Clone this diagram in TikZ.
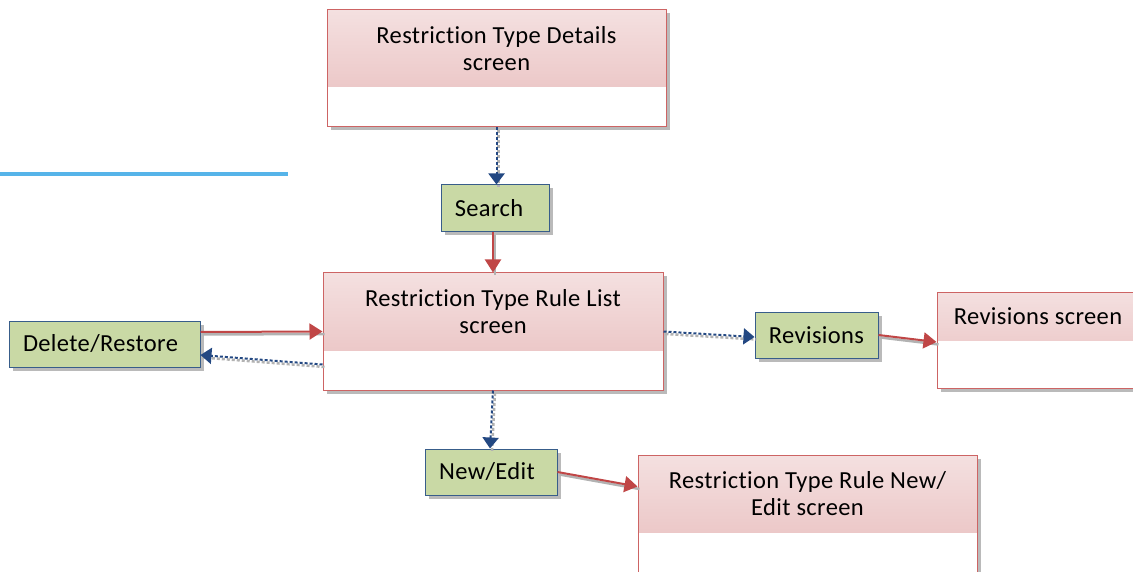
\documentclass[tikz,border=0pt]{standalone}
\usepackage{fontspec}
\setmainfont{Carlito}[Ligatures=NoCommon, LetterSpace=1.5]
\usetikzlibrary{arrows.meta,shadows,calc}
\definecolor{scrred}{RGB}{205,100,100}
\definecolor{hdtop}{RGB}{244,224,224}
\definecolor{hdbot}{RGB}{232,188,188}
\definecolor{actfill}{RGB}{201,217,165}
\definecolor{actline}{RGB}{56,93,138}
\definecolor{arrred}{RGB}{192,70,70}
\definecolor{arrblue}{RGB}{35,72,130}
\definecolor{skyline}{RGB}{86,180,233}
\tikzset{
  txt/.style={font=\fontsize{24.5}{27}\selectfont, align=center, inner sep=0pt},
  screenbox/.style={draw=scrred, line width=1pt, fill=white,
    drop shadow={shadow xshift=3.5pt, shadow yshift=-3.5pt, fill=black!45, opacity=0.6},
    path picture={\shade[top color=hdtop, bottom color=hdbot]
      (path picture bounding box.north west) rectangle ([yshift=-#1]path picture bounding box.north east);}},
  actbox/.style={draw=actline, line width=1pt, fill=actfill,
    drop shadow={shadow xshift=3.5pt, shadow yshift=-3.5pt, fill=black!45, opacity=0.6},
    font=\fontsize{24.5}{27}\selectfont},
  textleft/.style={execute at begin node={\hspace*{-#1}}},
  redarrow/.style={draw=arrred, line width=2pt, -{Triangle[length=13pt,width=16pt]}},
  bluearrow/.style={draw=arrblue, line width=2pt, dash pattern=on 3pt off 2pt, -{Triangle[length=11pt,width=16pt]}},
  lineshadow/.style={draw=black!30, line width=2.5pt, transform canvas={shift={(2pt,-2.5pt)}}},
}
\begin{document}
\begin{tikzpicture}[x=1pt,y=-1pt]
\useasboundingbox (0,0) rectangle (1133,572);
\clip (0,0) rectangle (1133,572);

% decorative line
\draw[skyline, line width=4pt] (0,174) coordinate (lineA) -- (288,174) coordinate (lineB);

% screens
\node[screenbox=77pt, minimum width=339pt, minimum height=117pt, inner sep=0pt] (details) at (496.5,68.5) {};
\node[txt] (detailsT) at (496.5,48.5) {Restriction Type Details\\screen};

\node[screenbox=77pt, minimum width=340pt, minimum height=117pt, inner sep=0pt] (list) at (493,331.5) {};
\node[txt] (listT) at (493,311.5) {Restriction Type Rule List\\screen};

\node[screenbox=48pt, minimum width=200pt, minimum height=96pt, inner sep=0pt] (revscr) at (1037,340) {};
\node[txt] (revscrT) at (1038,316) {Revisions screen};

\node[screenbox=77pt, minimum width=339pt, minimum height=117pt, inner sep=0pt] (nescr) at (807.5,513.5) {};
\node[txt] (nescrT) at (807.5,493.5) {Restriction Type Rule New/\\Edit screen};

% actions
\node[actbox, textleft=12pt, minimum width=108pt, minimum height=47pt, inner sep=0pt] (search) at (495,208.5) {Search};
\node[actbox, textleft=8pt, minimum width=191pt, minimum height=46pt, inner sep=0pt] (del) at (104.5,344) {Delete/Restore};
\node[actbox, minimum width=123pt, minimum height=46pt, inner sep=0pt] (rev) at (816.5,335) {Revisions};
\node[actbox, textleft=8pt, minimum width=132pt, minimum height=46pt, inner sep=0pt] (newedit) at (491,472) {New/Edit};

% connector shadows
\draw[lineshadow, dash pattern=on 3pt off 2pt] (details.south) -- (details.south |- search.north);
\draw[lineshadow] ($(search.south)+(-2,0)$) -- ($(search.south |- list.north)+(-2,0)$);
\draw[lineshadow] ($(del.east)+(0,-12)$) -- (list.west);
\draw[lineshadow, dash pattern=on 3pt off 2pt] ($(list.west)+(0,33)$) -- ($(del.east)+(0,11)$);
\draw[lineshadow, dash pattern=on 3pt off 2pt] (list.east) -- ($(rev.west)+(0,2)$);
\draw[lineshadow] (rev.east) -- ($(revscr.west)+(0,2)$);
\draw[lineshadow, dash pattern=on 3pt off 2pt] (list.south) -- ($(newedit.north)+(-1,0)$);
\draw[lineshadow] (newedit.east) -- ($(nescr.west)+(0,-27)$);

% connectors
\draw[bluearrow] (details.south) -- (details.south |- search.north);
\draw[redarrow] ($(search.south)+(-2,0)$) -- ($(search.south |- list.north)+(-2,0)$);
\draw[redarrow] ($(del.east)+(0,-12)$) -- (list.west);
\draw[bluearrow] ($(list.west)+(0,33)$) -- ($(del.east)+(0,11)$);
\draw[bluearrow] (list.east) -- ($(rev.west)+(0,2)$);
\draw[redarrow] (rev.east) -- ($(revscr.west)+(0,2)$);
\draw[bluearrow] (list.south) -- ($(newedit.north)+(-1,0)$);
\draw[redarrow] (newedit.east) -- ($(nescr.west)+(0,-27)$);
\end{tikzpicture}
\end{document}
